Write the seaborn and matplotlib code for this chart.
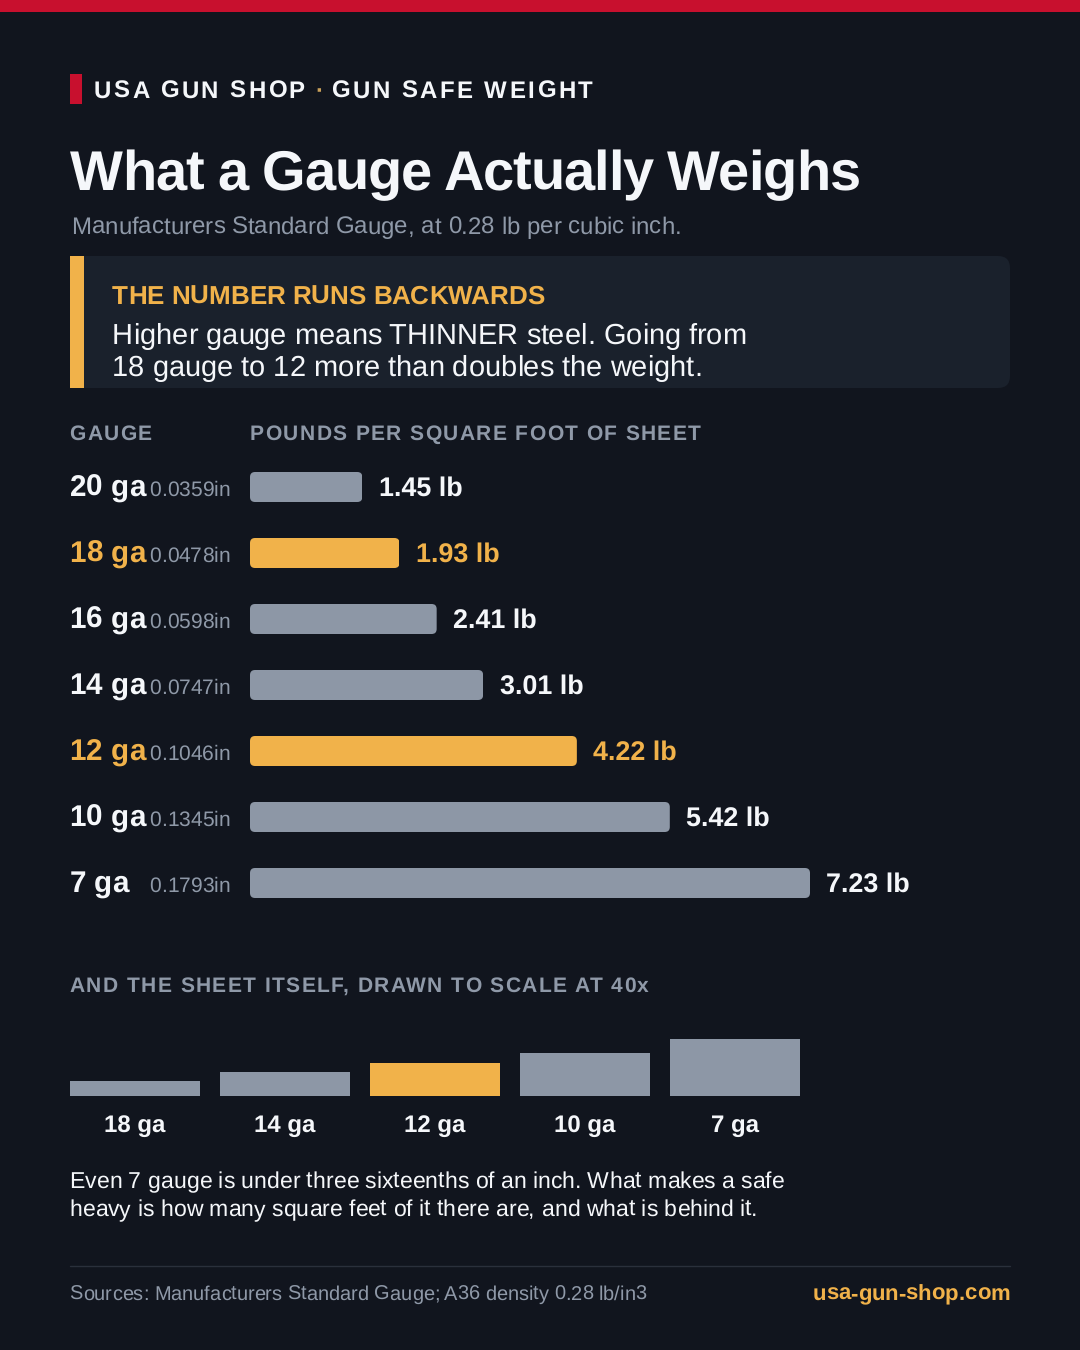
import matplotlib
matplotlib.use("Agg")
import matplotlib.pyplot as plt
import seaborn as sns
from matplotlib.patches import FancyBboxPatch, Rectangle
from matplotlib.text import Text
from matplotlib.textpath import text_to_path
from matplotlib.transforms import IdentityTransform

# ---- data ----
gauges = ["20 ga", "18 ga", "16 ga", "14 ga", "12 ga", "10 ga", "7 ga"]
thickness_in = [0.0359, 0.0478, 0.0598, 0.0747, 0.1046, 0.1345, 0.1793]
pounds_sqft = [1.45, 1.93, 2.41, 3.01, 4.22, 5.42, 7.23]
highlighted = ["18 ga", "12 ga"]
sheet_gauges = ["18 ga", "14 ga", "12 ga", "10 ga", "7 ga"]
sheet_thickness = [0.0478, 0.0747, 0.1046, 0.1345, 0.1793]

BG = "#11151E"
PANEL = "#1A212C"
GREY = "#8D97A6"
AMBER = "#F1B24A"
RED = "#C8102E"
WHITE = "#F5F7FA"
MUTED = "#8F99A8"

W, H = 1080, 1350
sns.set_theme(style="white", rc={"figure.facecolor": BG, "axes.facecolor": "none"})
plt.rcParams["font.family"] = ["Liberation Sans", "DejaVu Sans"]
plt.rcParams["text.hinting"] = "no_hinting"
PT = 72 / 100  # points per pixel at dpi 100

fig = plt.figure(figsize=(W / 100, H / 100), dpi=100, facecolor=BG)


def axes_px(x0, y0, x1, y1, **kw):
    return fig.add_axes([x0 / W, 1 - y1 / H, (x1 - x0) / W, (y1 - y0) / H], **kw)


class TrackedText(Text):
    """One text artist drawn glyph by glyph with extra letter spacing."""

    def __init__(self, *a, tracking=0.0, **kw):
        super().__init__(*a, **kw)
        self.tracking = tracking

    def _w(self, s):
        return text_to_path.get_text_width_height_descent(s, self.get_fontproperties(), False)[0] * 100 / 72

    def draw(self, renderer):
        s, (x0, y0) = self.get_text(), self.get_position()
        for i, ch in enumerate(s):
            if ch == " ":
                continue
            adv = self._w(s[: i + 1]) - self._w(ch)
            self.set_text(ch)
            self.set_x(x0 + adv + i * self.tracking)
            super().draw(renderer)
        self.set_text(s)
        self.set_x(x0)


canvas = axes_px(0, 0, W, H)
canvas.set_xlim(0, W)
canvas.set_ylim(H, 0)
canvas.axis("off")


def put(x, y, s, px, color=WHITE, weight="normal", tracking=0.0, right=False):
    t = TrackedText(x, y, s, tracking=tracking, fontsize=px * PT, color=color,
                    fontweight=weight, ha="left", va="baseline",
                    fontfamily=["Liberation Sans", "DejaVu Sans"])
    if right:
        t.set_x(x - t._w(s))
    canvas.add_artist(t)
    return t


# frame pieces
canvas.add_patch(Rectangle((0, 0), W, 12, color=RED, lw=0))
canvas.add_patch(Rectangle((70, 74), 12, 30, color=RED, lw=0))
canvas.add_patch(FancyBboxPatch((70, 256), 940, 132, boxstyle="round,pad=0,rounding_size=12", fc=PANEL, ec="none"))
canvas.add_patch(Rectangle((70, 256), 14, 132, color=AMBER, lw=0))
canvas.plot([70, 1010], [1266, 1266], color="#2A303B", lw=1)

# header
put(94, 98, "USA GUN SHOP", 24, WHITE, "bold", tracking=2.4)
put(315, 98, "·", 24, "#C9A05A", "bold")
put(331.5, 98, "GUN SAFE WEIGHT", 24, WHITE, "bold", tracking=2.45)
put(70, 189.5, "What a Gauge Actually Weighs", 56, WHITE, "bold", tracking=-1.05)
put(71.5, 234, "Manufacturers Standard Gauge, at 0.28 lb per cubic inch.", 24, MUTED)

# callout
put(112, 304, "THE NUMBER RUNS BACKWARDS", 26, AMBER, "bold", tracking=-0.04)
put(112, 344, "Higher gauge means THINNER steel. Going from", 29, WHITE)
put(112, 376, "18 gauge to 12 more than doubles the weight.", 29, WHITE)

# column headers
put(69.5, 440, "GAUGE", 21, MUTED, "bold", tracking=1.3)
put(250, 440, "POUNDS PER SQUARE FOOT OF SHEET", 21, MUTED, "bold", tracking=1.37)

# main bars
ax = axes_px(250, 454, 950, 916)
colors = {g: (AMBER if g in highlighted else GREY) for g in gauges}
sns.barplot(x=pounds_sqft, y=gauges, hue=gauges, palette=colors, legend=False,
            orient="h", width=30 / 66, saturation=1, linewidth=0, ax=ax)
ax.set_xlim(0, 700 / (560 / 7.23))
ax.set_ylim(6.5, -0.5)
ax.axis("off")
fig.canvas.draw()
for bar in ax.patches:
    e = bar.get_window_extent()
    clip = FancyBboxPatch((e.x0, e.y0), e.width, e.height, boxstyle="round,pad=0,rounding_size=5",
                          transform=IdentityTransform())
    bar.set_clip_path(clip)

for i, (g, t, v) in enumerate(zip(gauges, thickness_in, pounds_sqft)):
    c = AMBER if g in highlighted else WHITE
    y = 496 + i * 66
    put(69.5, y, g, 29.6, c, "bold")
    put(230, y, f"{t:.4f}in", 21, MUTED, right=True)
    ax.annotate(f"{v:.2f} lb", (v, i), xytext=(16.5 * PT, -8.6 * PT), textcoords="offset points",
                fontsize=26.9 * PT, fontweight="bold", color=c, va="baseline", ha="left")

# scale section
put(69.5, 992, "AND THE SHEET ITSELF, DRAWN TO SCALE AT 40x", 21, MUTED, "bold", tracking=1.41)
ax2 = axes_px(60, 1036, 810, 1096)
sheet_colors = {g: (AMBER if g == "12 ga" else GREY) for g in sheet_gauges}
sns.barplot(x=sheet_gauges, y=sheet_thickness, hue=sheet_gauges, palette=sheet_colors, legend=False,
            width=130 / 150, saturation=1, linewidth=0, ax=ax2)
ax2.set_xlim(-0.5, 4.5)
ax2.set_ylim(0, 60 / 320)
ax2.set_ylabel("")
ax2.set_yticks([])
sns.despine(ax=ax2, left=True, bottom=True)
ax2.tick_params(axis="x", length=0, pad=13.2, labelsize=24 * PT, labelcolor=WHITE)
for lab in ax2.get_xticklabels():
    lab.set_fontweight("bold")

put(69.5, 1188, "Even 7 gauge is under three sixteenths of an inch. What makes a safe", 23, WHITE)
put(69.5, 1216, "heavy is how many square feet of it there are, and what is behind it.", 23, WHITE)

# footer
put(69.5, 1300, "Sources: Manufacturers Standard Gauge; A36 density 0.28 lb/in3", 20, MUTED)
put(1010, 1300, "usa-gun-shop.com", 22.1, AMBER, "bold", right=True)

fig.savefig("out.png", dpi=100, facecolor=BG)
